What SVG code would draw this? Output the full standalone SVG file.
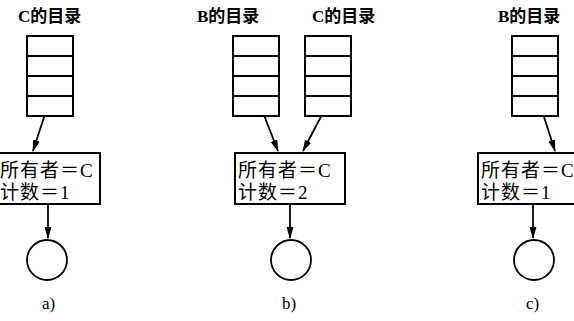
<svg xmlns="http://www.w3.org/2000/svg" width="574" height="321" viewBox="0 0 574 321">
<style>
.ln{stroke:#000;stroke-width:1.8;fill:none}
.bx{stroke:#000;stroke-width:2;fill:#fff}
.ttl{font-family:"Liberation Serif","Noto Sans CJK SC",serif;font-size:17px;font-weight:bold;fill:#000}
.inf{font-family:"Liberation Serif","Noto Sans CJK SC",serif;font-size:19px;letter-spacing:1px;fill:#000}
.lab{font-family:"Liberation Serif",serif;font-size:17px;fill:#000}
.ar{stroke:#000;stroke-width:1.8;fill:none;marker-end:url(#ah)}
</style>
<defs>
<marker id="ah" viewBox="0 0 12 10" refX="11" refY="5" markerWidth="12" markerHeight="10" markerUnits="userSpaceOnUse" orient="auto">
<path d="M0,1.5 L12,5 L0,8.5 Z" fill="#000"/>
</marker>
<g id="dir">
<rect class="bx" x="0" y="0" width="46" height="80"/>
<line class="ln" x1="0" y1="20" x2="46" y2="20"/>
<line class="ln" x1="0" y1="40" x2="46" y2="40"/>
<line class="ln" x1="0" y1="60" x2="46" y2="60"/>
</g>
</defs>
<g id="connectors">
<line class="ar" x1="48" y1="105" x2="33" y2="151"/>
<line class="ar" x1="48" y1="204" x2="48" y2="238"/>
<line class="ar" x1="253" y1="87" x2="278" y2="151"/>
<line class="ar" x1="326" y1="107" x2="303" y2="151"/>
<line class="ar" x1="290" y1="204" x2="290" y2="238"/>
<line class="ar" x1="535" y1="89" x2="555" y2="151"/>
<line class="ar" x1="533" y1="204" x2="533" y2="238"/>
</g>
<g id="panel-a">
<g id="a-title"><text class="ttl" x="18" y="22">C的目录</text></g>
<g id="a-dir"><use href="#dir" x="27" y="36"/></g>
<g id="a-inode"><rect class="bx" x="-10" y="153" width="110" height="51"/>
<text class="inf" x="0" y="177">所有者＝C</text>
<text class="inf" x="0" y="199">计数＝1</text></g>
<g id="a-file"><circle class="ln" cx="47" cy="260" r="20"/></g>
<text class="lab" x="42" y="309">a)</text>
</g>
<g id="panel-b">
<g id="b-title-b"><text class="ttl" x="197" y="22">B的目录</text></g>
<g id="b-title-c"><text class="ttl" x="312" y="22">C的目录</text></g>
<g id="b-dir-b"><use href="#dir" x="233" y="36"/></g>
<g id="b-dir-c"><use href="#dir" x="305" y="36"/></g>
<g id="b-inode"><rect class="bx" x="235" y="153" width="110" height="51"/>
<text class="inf" x="238" y="177">所有者＝C</text>
<text class="inf" x="238" y="199">计数＝2</text></g>
<g id="b-file"><circle class="ln" cx="291" cy="260" r="20"/></g>
<text class="lab" x="282" y="309">b)</text>
</g>
<g id="panel-c">
<g id="c-title"><text class="ttl" x="498" y="22">B的目录</text></g>
<g id="c-dir"><use href="#dir" x="512" y="36"/></g>
<g id="c-inode"><rect class="bx" x="478" y="153" width="110" height="51"/>
<text class="inf" x="481" y="177">所有者＝C</text>
<text class="inf" x="481" y="199">计数＝1</text></g>
<g id="c-file"><circle class="ln" cx="534" cy="260" r="20"/></g>
<text class="lab" x="526" y="309">c)</text>
</g>
</svg>
